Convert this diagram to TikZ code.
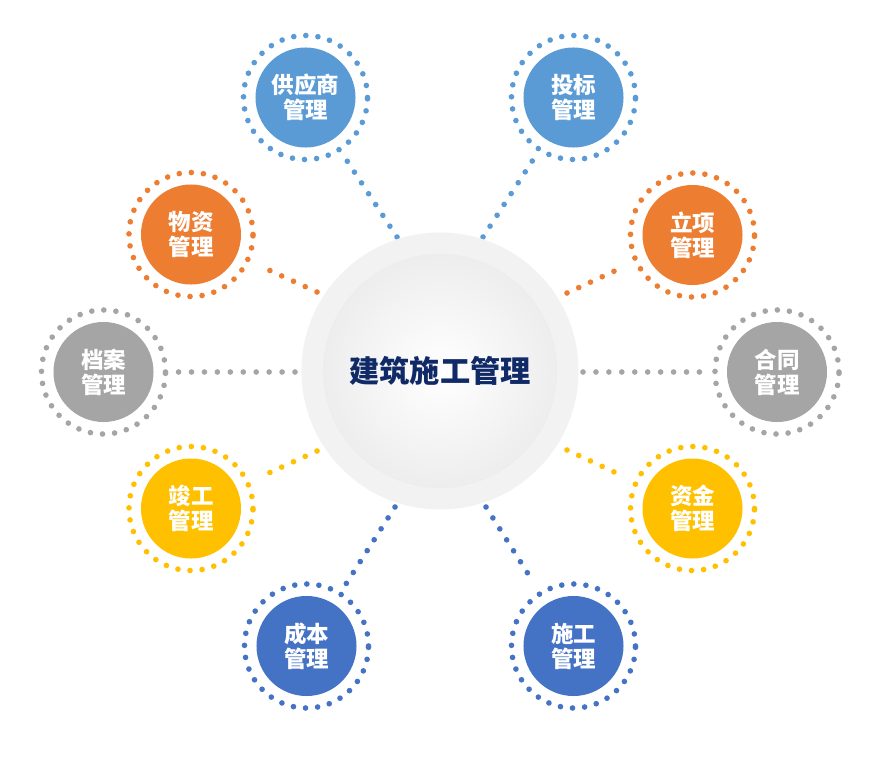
\documentclass[tikz,border=0pt]{standalone}
\usepackage{fontspec}
\newfontfamily\cjk{Noto Sans CJK SC}
\usetikzlibrary{calc}

\definecolor{supblue}{HTML}{5B9BD5}
\definecolor{suporange}{HTML}{ED7D31}
\definecolor{supgray}{HTML}{A5A5A5}
\definecolor{supyellow}{HTML}{FFC000}
\definecolor{supdark}{HTML}{4472C4}
\definecolor{hubtext}{HTML}{102A68}
\definecolor{hubring}{HTML}{F2F2F2}

\tikzstyle{sat} = [circle, minimum size=2.5cm, inner sep=0pt, text=white, align=center, font=\cjk\bfseries\fontsize{16}{17.8}\selectfont]
\tikzstyle{ring} = [line width=4pt, line cap=round, dash pattern=on 0pt off 8.63pt]
\tikzstyle{link} = [line width=4pt, line cap=round, dash pattern=on 0pt off 9.2pt]

\begin{document}
\begin{tikzpicture}[x=0.025cm,y=-0.025cm]
			\useasboundingbox (0,0) rectangle (882,775);
			% satellites
			\node[sat, fill=supblue] (gys) at (305.5,97.5) {供应商\\管理};
			\node[sat, fill=supblue] (tb) at (573.5,97.5) {投标\\管理};
			\node[sat, fill=suporange] (wz) at (191,234.5) {物资\\管理};
			\node[sat, fill=suporange] (lx) at (692.5,235) {立项\\管理};
			\node[sat, fill=supgray] (da) at (103.5,372) {档案\\管理};
			\node[sat, fill=supgray] (ht) at (777,372) {合同\\管理};
			\node[sat, fill=supyellow] (jg) at (191,508.5) {竣工\\管理};
			\node[sat, fill=supyellow] (zj) at (692.5,508.5) {资金\\管理};
			\node[sat, fill=supdark] (cb) at (306.5,646) {成本\\管理};
			\node[sat, fill=supdark] (sg) at (573.5,646) {施工\\管理};
			\draw[ring, supblue] (gys) circle [radius=1.55cm];
			\draw[ring, supblue] (tb) circle [radius=1.55cm];
			\draw[ring, suporange] (wz) circle [radius=1.55cm];
			\draw[ring, suporange] (lx) circle [radius=1.55cm];
			\draw[ring, supgray] (da) circle [radius=1.55cm];
			\draw[ring, supgray] (ht) circle [radius=1.55cm];
			\draw[ring, supyellow] (jg) circle [radius=1.55cm];
			\draw[ring, supyellow] (zj) circle [radius=1.55cm];
			\draw[ring, supdark] (cb) circle [radius=1.55cm];
			\draw[ring, supdark] (sg) circle [radius=1.55cm];
			% links
			\coordinate (gys-e) at (397,237);
			\coordinate (tb-e) at (483,237);
			\coordinate (wz-e) at (317,292);
			\coordinate (lx-e) at (567,293);
			\coordinate (da-e) at (295,372);
			\coordinate (ht-e) at (583,372);
			\coordinate (jg-e) at (317,451);
			\coordinate (zj-e) at (567,450);
			\coordinate (cb-e) at (395,507);
			\coordinate (sg-e) at (486,507);
			\draw[link, supblue] (gys-e) -- ($(gys)!1.85cm!(gys-e)$);
			\draw[link, supblue] (tb-e) -- ($(tb)!1.85cm!(tb-e)$);
			\draw[link, suporange] (wz-e) -- ($(wz)!1.85cm!(wz-e)$);
			\draw[link, suporange] (lx-e) -- ($(lx)!1.85cm!(lx-e)$);
			\draw[link, supgray] (da-e) -- ($(da)!1.85cm!(da-e)$);
			\draw[link, supgray] (ht-e) -- ($(ht)!1.85cm!(ht-e)$);
			\draw[link, supyellow] (jg-e) -- ($(jg)!1.85cm!(jg-e)$);
			\draw[link, supyellow] (zj-e) -- ($(zj)!1.85cm!(zj-e)$);
			\draw[link, supdark] (cb-e) -- ($(cb)!1.85cm!(cb-e)$);
			\draw[link, supdark] (sg-e) -- ($(sg)!1.85cm!(sg-e)$);
			% hub
			\fill[hubring] (440,371) circle [radius=3.4625cm];
			\shade[inner color=white, outer color=black!7] (440,371) circle [radius=2.925cm];
			\node[font=\cjk\bfseries\fontsize{21.5}{24}\selectfont, text=hubtext] (hub) at (440,371) {建筑施工管理};
		\end{tikzpicture}
\end{document}
